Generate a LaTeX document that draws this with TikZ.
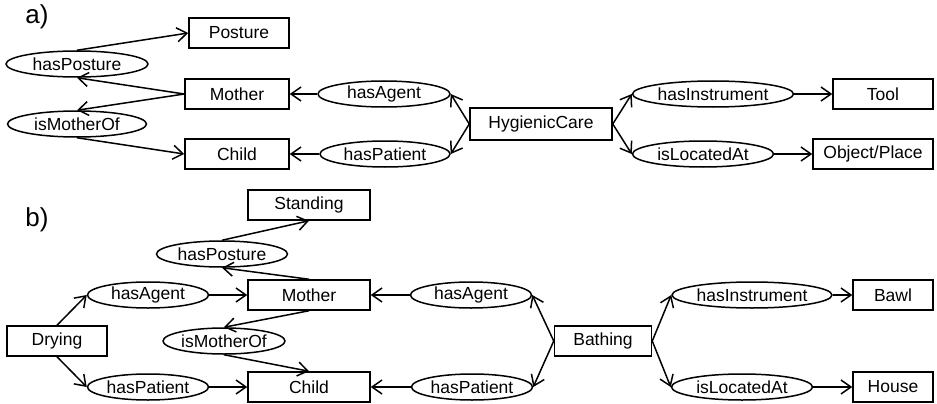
\documentclass[tikz,border=0pt]{standalone}
\usepackage{fontspec}
\setmainfont{Liberation Sans}
\usetikzlibrary{arrows.meta,shapes.geometric}

\begin{document}
\begin{tikzpicture}[
  x=1pt,y=-1pt,
  line width=1.5pt,
  font=\fontsize{17.5}{21}\selectfont,
  cls/.style={draw,rectangle,minimum height=30pt,minimum width=#1,inner sep=0pt},
  rel/.style={draw,ellipse,minimum height=26pt,minimum width=#1,inner sep=0pt},
  lbl/.style={font=\fontsize{26}{30}\selectfont},
  link/.style={-{Straight Barb[length=10pt,width=14pt]}},
]
\useasboundingbox (0,0) rectangle (937,404);

\node[lbl] (la) at (37,17) {a)};
\node[cls=100pt] (posA) at (239,33) {Posture};
\node[rel=142pt] (hpA)  at (77,64)  {hasPosture};
\node[cls=104pt] (motA) at (237,94) {Mother};
\node[rel=139pt] (imoA) at (77,124) {isMotherOf};
\node[cls=104pt] (chiA) at (237,154) {Child};
\node[rel=132pt] (hagA) at (384,94) {hasAgent};
\node[rel=130pt] (hpaA) at (385,154) {hasPatient};
\node[cls=142pt,minimum height=32pt] (hyg) at (541,124) {HygienicCare};
\node[rel=161pt] (hinA) at (713,94)  {hasInstrument};
\node[rel=141pt] (ilaA) at (703,154) {isLocatedAt};
\node[cls=100pt] (tool) at (883,94)  {Tool};
\node[cls=120pt] (obj)  at (873,154) {Object/Place};

\draw[link] (hpA.north) -- (posA.west);
\draw[link] (motA.west) -- (hpA.south);
\draw[link] (motA.west) -- (imoA.north);
\draw[link] (imoA.south) -- (chiA.west);
\draw[link] (hagA) -- (motA);
\draw[link] (hpaA) -- (chiA);
\draw[link] (hyg.west) -- (hagA.east);
\draw[link] (hyg.west) -- (hpaA.east);
\draw[link] (hyg.east) -- (hinA.west);
\draw[link] (hyg.east) -- (ilaA.west);
\draw[link] (hinA) -- (tool);
\draw[link] (ilaA) -- (obj);

\node[lbl] (lb) at (37,220) {b)};
\node[cls=122pt] (stdB) at (309,205) {Standing};
\node[rel=131pt] (hpB)  at (222,254) {hasPosture};
\node[cls=122pt] (motB) at (309,295) {Mother};
\node[rel=121pt] (hagL) at (148,295) {hasAgent};
\node[rel=121pt] (hagR) at (471,295) {hasAgent};
\node[cls=100pt] (dry)  at (57,341)  {Drying};
\node[rel=122pt] (imoB) at (224,341) {isMotherOf};
\node[cls=122pt] (chiB) at (309,387) {Child};
\node[rel=121pt] (hpaL) at (148,387) {hasPatient};
\node[rel=121pt] (hpaR) at (472,387) {hasPatient};
\node[cls=97pt]  (bath) at (603,341) {Bathing};
\node[rel=160pt] (hinB) at (752,295) {hasInstrument};
\node[cls=80pt]  (bawl) at (893,295) {Bawl};
\node[rel=141pt] (ilaB) at (742,387) {isLocatedAt};
\node[cls=80pt]  (house) at (893,387) {House};

\draw[link] (hpB.north) -- (stdB.south);
\draw[link] (motB.north) -- (hpB.south);
\draw[link] (motB.south) -- (imoB.north);
\draw[link] (imoB.south) -- (chiB.north);
\draw[link] (dry.north) -- (hagL.west);
\draw[link] (dry.south) -- (hpaL.west);
\draw[link] (hagL) -- (motB);
\draw[link] (hpaL) -- (chiB);
\draw[link] (hagR) -- (motB);
\draw[link] (hpaR) -- (chiB);
\draw[link] (bath.west) -- (hagR.east);
\draw[link] (bath.west) -- (hpaR.east);
\draw[link] (bath.east) -- (hinB.west);
\draw[link] (bath.east) -- (ilaB.west);
\draw[link] (hinB) -- (bawl);
\draw[link] (ilaB) -- (house);
\end{tikzpicture}
\end{document}
